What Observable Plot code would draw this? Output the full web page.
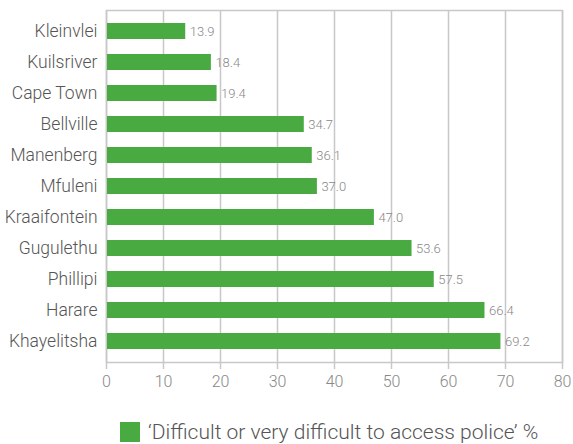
<!DOCTYPE html>
<html><head><meta charset="utf-8">
<script src="https://cdn.jsdelivr.net/npm/d3@7"></script>
<script src="https://cdn.jsdelivr.net/npm/@observablehq/plot@0.6"></script>
<style>
body{margin:0;background:#fff;font-family:Roboto,"Liberation Sans",sans-serif;}
#legend{display:flex;align-items:center;margin-left:120px;margin-top:20px;font-size:21px;color:#555;font-weight:300;font-family:Roboto,"Liberation Sans",sans-serif;}
#legend span.sw{display:inline-block;width:20px;height:20px;background:#4aaa42;margin-right:8px;}
</style></head>
<body><div id="chart"></div><div id="legend"><span class="sw"></span><span>‘Difficult or very difficult to access police’ %</span></div>
<script>
const areas = ["Kleinvlei","Kuilsriver","Cape Town","Bellville","Manenberg","Mfuleni","Kraaifontein","Gugulethu","Phillipi","Harare","Khayelitsha"];
const values = [13.9,18.4,19.4,34.7,36.1,37.0,47.0,53.6,57.5,66.4,69.2];
const xTicks = [0,10,20,30,40,50,60,70,80];
const data = areas.map((a,i)=>({area:a,value:values[i]}));
const grid = "#c8c8c8";
const plot = Plot.plot({
  width:573, height:400,
  marginLeft:106, marginRight:11, marginTop:10, marginBottom:38,
  style:{fontFamily:"Roboto,'Liberation Sans',sans-serif", background:"#fff"},
  x:{domain:[0,80], ticks:xTicks, label:null},
  y:{domain:areas, padding:0.5, paddingOuter:0.41, label:null},
  marks:[
    Plot.gridX(xTicks,{stroke:grid, strokeOpacity:1, strokeWidth:1.5}),
    Plot.frame({stroke:grid, strokeWidth:1.5}),
    Plot.barX(data,{x:"value", y:"area", fill:"#4aaa42", insetLeft:1}),
    Plot.text(data,{x:"value", y:"area", text:d=>d.value.toFixed(1), dx:4, textAnchor:"start", fill:"#888", fontSize:13, fontWeight:300}),
    Plot.axisX(xTicks,{tickSize:7, tickPadding:6, stroke:grid, strokeWidth:1.5, fontSize:16, fill:"#888", fontWeight:300, label:null}),
    Plot.axisY({tickSize:0, tickPadding:9, fontSize:17.5, fill:"#555", fontWeight:300, label:null})
  ]
});
document.getElementById("chart").appendChild(plot);
</script></body></html>
